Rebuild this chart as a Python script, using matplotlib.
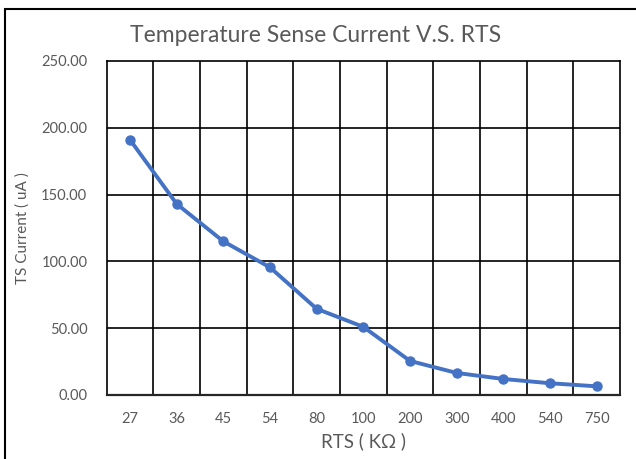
import matplotlib
matplotlib.use("Agg")
import matplotlib.pyplot as plt
from matplotlib.patches import Rectangle

categories = ["27", "36", "45", "54", "80", "100", "200", "300", "400", "540", "750"]
current_ua = [191.0, 143.0, 115.0, 95.5, 64.5, 51.0, 25.5, 16.5, 12.0, 8.8, 6.5]
y_ticks = [0, 50, 100, 150, 200, 250]

plt.rcParams['font.family'] = ['Lato', 'DejaVu Sans']

W, H = 636, 459
fig = plt.figure(figsize=(W / 100, H / 100), dpi=100)
fig.patch.set_facecolor("white")

# outer chart border
fig.patches.append(Rectangle((4.5 / W, -0.1), 1.2, (H - 8.5) / H + 0.1,
                             transform=fig.transFigure, fill=False,
                             edgecolor="black", linewidth=1.5))

left, right, top, bottom = 106.7, 620, 61, 395
ax = fig.add_axes([left / W, (H - bottom) / H, (right - left) / W, (bottom - top) / H])

x = list(range(len(categories)))
ax.plot(x, current_ua, color="#4472C4", linewidth=2.8, marker="o",
        markersize=6.5, solid_capstyle="round", zorder=3)

ax.set_xlim(-0.5, len(categories) - 0.5)
ax.set_ylim(0, 250)
ax.set_yticks(y_ticks)
ax.set_yticklabels([f"{v:.2f}" for v in y_ticks])
ax.set_xticks(x)
ax.set_xticklabels(categories)

for b in [i - 0.5 for i in range(1, len(categories))]:
    ax.axvline(b, color="black", linewidth=1.2, zorder=1)
for v in y_ticks[1:-1]:
    ax.axhline(v, color="black", linewidth=1.2, zorder=1)

for s in ax.spines.values():
    s.set_color("black")
    s.set_linewidth(1.2)
ax.spines["bottom"].set_linewidth(1.6)
ax.spines["bottom"].set_color("#262626")

ax.tick_params(axis="both", length=0, labelsize=10.5, colors="#595959")
ax.tick_params(axis="x", pad=12)
ax.tick_params(axis="y", pad=14)

ax.set_xlabel("RTS ( KΩ )", fontsize=13.5, color="#595959", labelpad=5)
ax.set_ylabel("TS Current ( uA )", fontsize=11, color="#595959", labelpad=8)

fig.text(316 / W, 1 - 36 / H, "Temperature Sense Current V.S. RTS",
         ha="center", va="center", fontsize=16.5, color="#595959")

fig.savefig("out.png", dpi=100, facecolor="white")
